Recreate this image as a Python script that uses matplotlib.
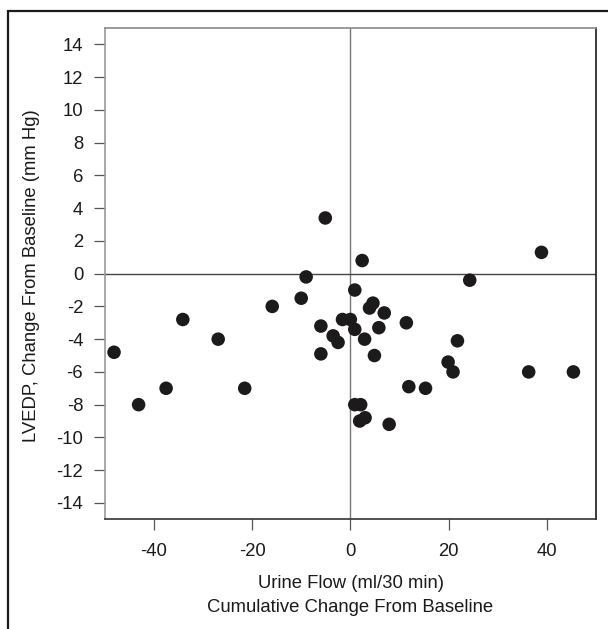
import matplotlib
matplotlib.use("Agg")
import matplotlib.pyplot as plt
from matplotlib.patches import Rectangle

plt.rcParams['font.family'] = ['Liberation Sans', 'DejaVu Sans']

# Urine flow (cumulative change, ml/30 min) vs LVEDP change (mm Hg)
urine_flow = [-48.1, -43.1, -37.5, -34.1, -26.9, -21.5, -15.9, -10.0, -9.0, -5.1,
              -6.0, -6.0, -3.5, -2.5, -1.6, 0.0, 0.9, 2.4, 0.9, 3.9,
              4.6, 6.9, 5.8, 2.9, 4.9, 11.4, 38.9, 24.3, 21.8, 19.9,
              20.9, 36.3, 45.4, 11.9, 15.3, 0.9, 2.1, 1.9, 3.0, 7.9]
lvedp_change = [-4.8, -8.0, -7.0, -2.8, -4.0, -7.0, -2.0, -1.5, -0.2, 3.4,
                -3.2, -4.9, -3.8, -4.2, -2.8, -2.8, -1.0, 0.8, -3.4, -2.1,
                -1.8, -2.4, -3.3, -4.0, -5.0, -3.0, 1.3, -0.4, -4.1, -5.4,
                -6.0, -6.0, -6.0, -6.9, -7.0, -8.0, -8.0, -9.0, -8.8, -9.2]

x_ticks = [-40, -20, 0, 20, 40]
y_ticks = list(range(-14, 15, 2))

W, H = 608, 629
FS = 13.3
fig = plt.figure(figsize=(W / 100, H / 100), dpi=100)
ax = fig.add_axes([104.7 / W, 1 - 519.3 / H, (596 - 104.7) / W, (519.3 - 28) / H])

ax.set_xlim(-50, 50)
ax.set_ylim(-15, 15)

# zero reference lines
ax.axvline(0, color='#777777', lw=1.0, zorder=1)
ax.axhline(0, color='#444444', lw=1.0, zorder=1)

ax.scatter(urine_flow, lvedp_change, s=95, color='#1c1a1a', edgecolors='none', zorder=3)

ax.set_xticks(x_ticks)
ax.set_xticklabels([str(v) for v in x_ticks])
ax.set_yticks(y_ticks)
ax.set_yticklabels([str(v) for v in y_ticks])
ax.tick_params(axis='both', direction='out', length=8, width=0.9, color='#555555',
               labelsize=FS, labelcolor='#1a1a1a')
ax.tick_params(axis='y', pad=7.5)
ax.tick_params(axis='x', pad=9)

for side, col in (('left', '#9a9a9a'), ('top', '#8a8a8a'),
                  ('right', '#1a1a1a'), ('bottom', '#333333')):
    ax.spines[side].set_color(col)
    ax.spines[side].set_linewidth(1.2)

fig.text(350.5 / W, 1 - 583 / H, 'Urine Flow (ml/30 min)', ha='center', va='center',
         fontsize=FS, color='#1a1a1a')
fig.text(350.5 / W, 1 - 608 / H, 'Cumulative Change From Baseline', ha='center', va='center',
         fontsize=FS, color='#1a1a1a')
fig.text(32 / W, 1 - 276 / H, 'LVEDP, Change From Baseline (mm Hg)', ha='center', va='center',
         rotation=90, fontsize=FS, color='#1a1a1a')

# outer frame around the figure panel
fig.patches.append(Rectangle((7.5 / W, -0.2), 1.2, 1 - 11 / H + 0.2, transform=fig.transFigure,
                             fill=False, lw=1.6, edgecolor='#1a1a1a', clip_on=False))

fig.savefig('out.png', dpi=100, facecolor='white')
